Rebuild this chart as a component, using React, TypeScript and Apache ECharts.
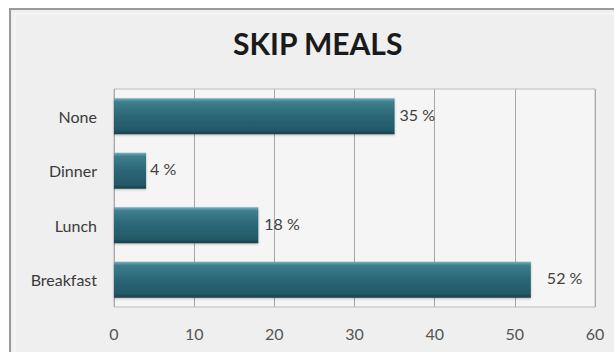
import React, { useEffect, useRef } from "react";
import * as echarts from "echarts";

const titleText = "SKIP MEALS";
const categories = ["Breakfast", "Lunch", "Dinner", "None"];
const values = [52, 18, 4, 35];
const xTicks = { min: 0, max: 60, interval: 10 };

export default function App() {
  const ref = useRef<HTMLDivElement>(null);
  useEffect(() => {
    if (!ref.current) return;
    const chart = echarts.init(ref.current, undefined, { renderer: "svg" });
    const font = "Lato, 'Open Sans', sans-serif";
    const labelGap = [16, 6, 4, 5];
    chart.setOption({
      animation: false,
      backgroundColor: "#ffffff",
      textStyle: { fontFamily: font },
      title: {
        text: titleText,
        left: 228,
        top: 23,
        textStyle: { fontFamily: font, fontWeight: "bold", fontSize: 30, color: "#1a1a1a" },
      },
      graphic: [
        {
          type: "rect",
          z: -100,
          shape: { x: 10, y: 9, width: 640, height: 360 },
          style: { fill: "#efefef", stroke: "#9a9a9a", lineWidth: 2 },
        },
        {
          type: "polyline",
          z: -99,
          shape: { points: [[14.5, 360], [14.5, 13.5], [620, 13.5]] },
          style: { fill: null, stroke: "#f8f8f8", lineWidth: 1.5 },
        },
      ],
      grid: {
        left: 114,
        right: 19,
        top: 89,
        bottom: 45,
        show: true,
        backgroundColor: "#f5f5f5",
        borderColor: "#bdbdbd",
        borderWidth: 1,
      },
      xAxis: {
        type: "value",
        min: xTicks.min,
        max: xTicks.max,
        interval: xTicks.interval,
        axisLine: { show: false },
        axisTick: { show: false },
        splitLine: { show: true, lineStyle: { color: "#a8a8a8", width: 1 } },
        axisLabel: { color: "#555555", fontSize: 16, margin: 18, fontFamily: font },
      },
      yAxis: {
        type: "category",
        data: categories,
        axisLine: { show: false },
        axisTick: { show: false },
        axisLabel: { color: "#3a3a3a", fontSize: 16, margin: 17, fontFamily: font },
      },
      series: [
        {
          type: "bar",
          data: values.map((v, i) => ({
            value: v,
            label: { distance: labelGap[i] },
          })),
          barWidth: "66%",
          itemStyle: {
            color: new echarts.graphic.LinearGradient(0, 0, 0, 1, [
              { offset: 0, color: "#78b0bc" },
              { offset: 0.1, color: "#3d7e8d" },
              { offset: 0.5, color: "#2b6676" },
              { offset: 0.88, color: "#235968" },
              { offset: 1, color: "#173f4a" },
            ]),
            shadowColor: "rgba(0,0,0,0.25)",
            shadowBlur: 2,
            shadowOffsetY: 1,
          },
          label: {
            show: true,
            position: "right",
            formatter: "{c} %",
            color: "#404040",
            fontSize: 16,
            offset: [0, -2],
            fontFamily: font,
          },
        },
      ],
    });
    return () => chart.dispose();
  }, []);
  return (
    <div
      ref={ref}
      style={{ position: "fixed", left: 0, top: 0, width: 614, height: 352 }}
    />
  );
}
